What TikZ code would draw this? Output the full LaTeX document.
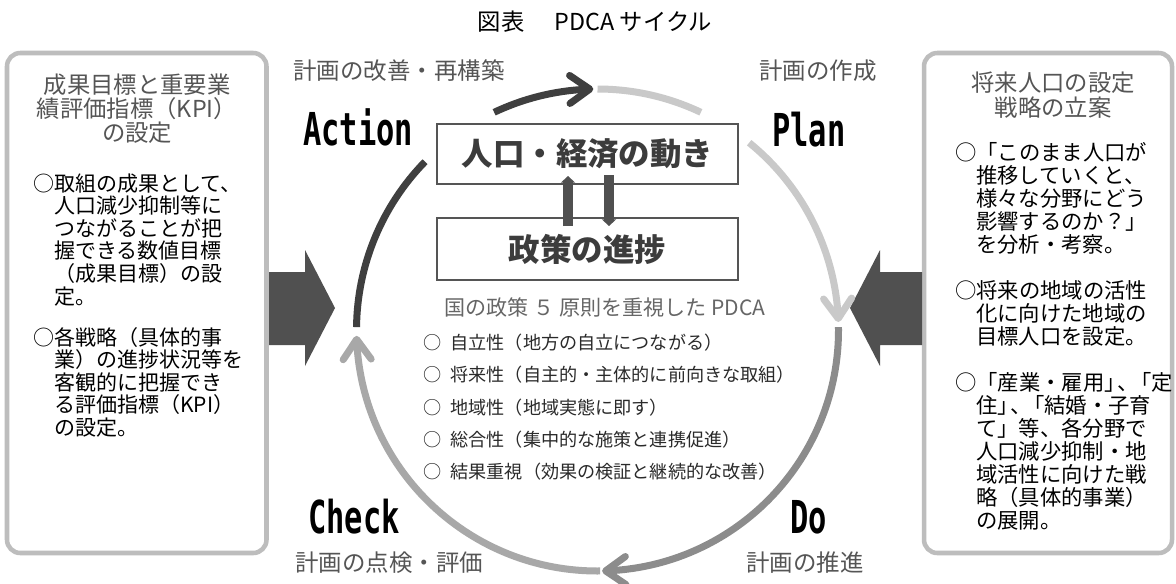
\documentclass[tikz,border=0pt]{standalone}
\usepackage{fontspec}
\setmainfont{Noto Sans CJK JP}
\newfontfamily\bigen{DejaVu Sans Mono}[FakeStretch=0.67]
\usetikzlibrary{arrows.meta,bending}
\definecolor{cAct}{HTML}{3F3F3F}
\definecolor{cPlan}{HTML}{C9C9C9}
\definecolor{cDo}{HTML}{8C8C8C}
\definecolor{cCheck}{HTML}{A8A8A8}
\definecolor{blockgray}{HTML}{505050}
\definecolor{sidegray}{HTML}{BDBDBD}
\definecolor{labelgray}{HTML}{555555}
\definecolor{subgray}{HTML}{666666}
\definecolor{boxline}{HTML}{555555}
\definecolor{boxtext}{HTML}{3C3C3C}
\definecolor{listtext}{HTML}{2A2A2A}
\begin{document}
\begin{tikzpicture}[x=0.75pt,y=-0.75pt,
  sidebox/.style={draw=sidegray, line width=3.4pt, rounded corners=10pt},
  blockarrow/.style={fill=blockgray},
  arcline/.style={line width=5.25pt},
  arrowtip/.style={-{Straight Barb[length=15pt,width=21pt,round]}},
  cbox/.style={draw=boxline, line width=1.5pt, fill=white, minimum width=225.75pt,
    inner sep=0pt, font=\fontsize{23.6pt}{26pt}\selectfont\bfseries, text=boxtext},
  udarrow/.style={draw=blockgray, line width=7.5pt, -{Triangle[length=5pt,width=10.5pt]}},
  ln/.style={anchor=base west, inner sep=0pt},
  titleln/.style={anchor=base, inner sep=0pt, font=\fontsize{17.5pt}{20pt}\selectfont, text=labelgray},
  lbody/.style={ln, font=\fontsize{15.75pt}{18pt}\selectfont, text=black},
  rbody/.style={ln, font=\fontsize{16pt}{18pt}\selectfont, text=black},
  phase/.style={ln, font=\fontsize{17.6pt}{20pt}\selectfont, text=labelgray},
  big/.style={ln, font=\bigen\bfseries\fontsize{34pt}{36pt}\selectfont, text=black},
  listln/.style={ln, font=\fontsize{13.6pt}{15pt}\selectfont, text=listtext}
]
\useasboundingbox (0,0) rectangle (1176,583);
\fill[white] (0,0) rectangle (1176,583);

% title
\node[anchor=base, inner sep=0pt, font=\fontsize{17.5pt}{19pt}\selectfont] (title) at (595,30) {図表　\hspace{0.3em}PDCA サイクル};

% side boxes
\draw[sidebox] (7,53) rectangle (266.5,553);
\draw[sidebox] (924,53) rectangle (1172,553);

% block arrows
\fill[blockarrow] (269,272) -- (305,272) -- (305,250) -- (335,308) -- (305,366) -- (305,345) -- (269,345) -- cycle;
\fill[blockarrow] (922,272) -- (880,272) -- (880,250) -- (850,308) -- (880,366) -- (880,345) -- (922,345) -- cycle;

% left box text
\node[titleln] (lt1) at (137,93) {成果目標と重要業};
\node[titleln] (lt2) at (137,117) {績評価指標（KPI）};
\node[titleln] (lt3) at (137,141) {の設定};
\foreach \xx/\yy/\tt [count=\i] in {
  33/191/○取組の成果として、,
  54/213.6/人口減少抑制等に,
  54/236.2/つながることが把,
  54/258.8/握できる数値目標,
  54/281.4/（成果目標）の設,
  54/304/定。,
  33/345/○各戦略（具体的事,
  54/367.6/業）の進捗状況等を,
  54/390.2/客観的に把握でき,
  54/412.8/る評価指標（KPI）,
  54/435.4/の設定。}
  \node[lbody] (lb\i) at (\xx,\yy) {\tt};

% right box text
\node[titleln] (rt1) at (1053,91.5) {将来人口の設定};
\node[titleln] (rt2) at (1053,116) {戦略の立案};
\foreach \xx/\yy/\tt [count=\i] in {
  955/160/○「このまま人口が,
  976/183/推移していくと、,
  976/206/様々な分野にどう,
  976/229/影響するのか？」,
  976/252/を分析・考察。,
  955/298/○将来の地域の活性,
  976/321/化に向けた地域の,
  976/344/目標人口を設定。,
  955/390/○「産業・雇用」\hspace{-0.4em}、\hspace{-0.4em}「定,
  976/413/住」\hspace{-0.4em}、\hspace{-0.4em}「結婚・子育,
  976/436/て」等、各分野で,
  976/459/人口減少抑制・地,
  976/482/域活性に向けた戦,
  976/505/略（具体的事業）,
  976/528/の展開。}
  \node[rbody] (rb\i) at (\xx,\yy) {\tt};

% cycle arcs
\coordinate (C) at (597.5,330);
\draw[arcline, draw=cAct] (C) ++(180.7:241) arc[start angle=180.7, end angle=224.3, radius=241];
\draw[arcline, draw=cAct, arrowtip] (C) ++(244.6:241) arc[start angle=244.6, end angle=269, radius=241];
\draw[arcline, draw=cPlan] (C) ++(270:241) arc[start angle=270, end angle=295.4, radius=241];
\draw[arcline, draw=cPlan, arrowtip] (C) ++(309:241) arc[start angle=309, end angle=358.1, radius=241];
\draw[arcline, draw=cDo, arrowtip] (C) ++(359.3:241) arc[start angle=359.3, end angle=448.9, radius=241];
\draw[arcline, draw=cCheck, arrowtip] (C) ++(89.4:241) arc[start angle=89.4, end angle=178.6, radius=241];

% centre boxes
\node[cbox, minimum height=45pt] (box1) at (587.5,154) {人口・経済の動き};
\node[cbox, minimum height=46.5pt] (box2) at (587.5,249) {政策の進捗};
\path (box2.north) ++(-19.5,9) coordinate (u1);
\path (box1.south) ++(-19.5,-9) coordinate (u2);
\path (box1.south) ++(21.5,-10) coordinate (d1);
\path (box2.north) ++(21.5,9) coordinate (d2);
\draw[udarrow] (u1) -- (u2);
\draw[udarrow] (d1) -- (d2);

% phase labels
\node[phase] (pa) at (293,79) {計画の改善・再構築};
\node[phase] (pp) at (759,79) {計画の作成};
\node[phase] (pc) at (295,571) {計画の点検・評価};
\node[phase] (pd) at (746,571) {計画の推進};
\node[big] (ba) at (303,145) {Action};
\node[big] (bp) at (772,146) {Plan};
\node[big] (bc) at (308,533) {Check};
\node[big] (bd) at (790,533) {Do};

% principles
\node[anchor=base, inner sep=0pt, font=\fontsize{15.8pt}{17pt}\selectfont, text=subgray] (sub) at (605,315.7) {国の政策 ５ 原則を重視した PDCA};
\node[listln] (li1) at (423,349.7) {○\hspace{0.5em}自立性（地方の自立につながる）};
\node[listln] (li2) at (423,381.9) {○\hspace{0.5em}将来性（自主的・主体的に前向きな取組）};
\node[listln] (li3) at (423,414.1) {○\hspace{0.5em}地域性（地域実態に即す）};
\node[listln] (li4) at (423,446.3) {○\hspace{0.5em}総合性（集中的な施策と連携促進）};
\node[listln] (li5) at (423,478.5) {○\hspace{0.5em}結果重視（効果の検証と継続的な改善）};
\end{tikzpicture}
\end{document}
